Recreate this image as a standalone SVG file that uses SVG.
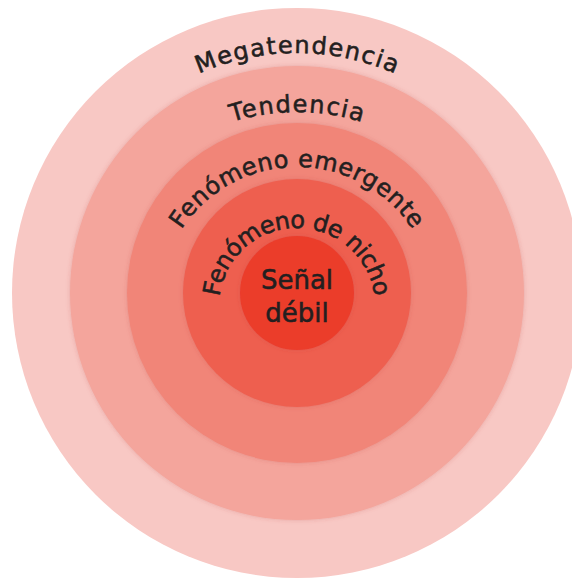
<svg xmlns="http://www.w3.org/2000/svg" width="572" height="579" viewBox="0 0 572 579">
  <style>
    .lbl { font-family: "DejaVu Sans", "Liberation Sans", sans-serif; font-size: 24px; fill: #231f20; stroke: #231f20; stroke-width: 0.55px; }
    .ctr { font-size: 26px; }
  </style>
  <defs>
    <filter id="soft" x="-10%" y="-10%" width="120%" height="120%">
      <feDropShadow dx="0" dy="0" stdDeviation="2" flood-color="#b0403a" flood-opacity="0.25"/>
    </filter>
    <path id="pMega" d="M 52 298 A 245 245 0 0 1 542 298"/>
    <path id="pTend" d="M 77 332 A 220 220 0 0 1 517 332"/>
    <path id="pEmer" d="M 159 305 A 138 138 0 0 1 435 305"/>
    <path id="pNicho" d="M 219 306 A 78 78 0 0 1 375 306"/>
  </defs>
  <rect width="572" height="579" fill="#ffffff"/>
  <g id="megatendencia">
    <circle cx="297" cy="293" r="285" fill="#f8c8c4"/>
    <text class="lbl"><textPath href="#pMega" startOffset="50%" text-anchor="middle" textLength="202" lengthAdjust="spacing">Megatendencia</textPath></text>
  </g>
  <g id="tendencia">
    <circle cx="297" cy="293" r="227" fill="#f4a59c" filter="url(#soft)"/>
    <text class="lbl"><textPath href="#pTend" startOffset="50%" text-anchor="middle" textLength="132" lengthAdjust="spacing">Tendencia</textPath></text>
  </g>
  <g id="fenomeno-emergente">
    <circle cx="297" cy="293" r="170" fill="#f18578" filter="url(#soft)"/>
    <text class="lbl"><textPath href="#pEmer" startOffset="50%" text-anchor="middle" textLength="274" lengthAdjust="spacing">Fenómeno emergente</textPath></text>
  </g>
  <g id="fenomeno-de-nicho">
    <circle cx="297" cy="293" r="114" fill="#ee5f50" filter="url(#soft)"/>
    <text class="lbl"><textPath href="#pNicho" startOffset="50%" text-anchor="middle" textLength="226" lengthAdjust="spacing">Fenómeno de nicho</textPath></text>
  </g>
  <g id="senal-debil">
    <circle cx="297" cy="293" r="57" fill="#eb3c2c" filter="url(#soft)"/>
    <text class="lbl ctr" x="297" y="289" text-anchor="middle">Señal</text>
    <text class="lbl ctr" x="297" y="322" text-anchor="middle">débil</text>
  </g>
  <g id="connectors"/>
</svg>
